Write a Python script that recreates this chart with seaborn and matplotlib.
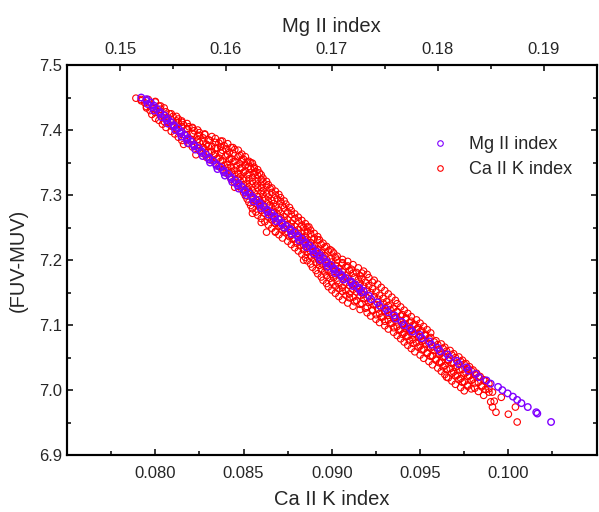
import matplotlib
matplotlib.use('Agg')
import matplotlib.pyplot as plt
from matplotlib.ticker import MultipleLocator, FormatStrFormatter
from matplotlib.lines import Line2D
import seaborn as sns
import pandas as pd

sns.set_style('ticks')
plt.rcParams['font.family'] = ['Liberation Sans', 'DejaVu Sans']

# ── Data ────────────────────────────────────────────────────────────────────
# Mg II index (top axis) vs FUV-MUV
mg_index = [
    0.1520, 0.1525, 0.1526, 0.1531, 0.1532, 0.1538, 0.1539, 0.1544, 0.1545, 0.1551,
    0.1552, 0.1557, 0.1558, 0.1563, 0.1564, 0.1570, 0.1571, 0.1577, 0.1578, 0.1584,
    0.1585, 0.1591, 0.1592, 0.1598, 0.1599, 0.1605, 0.1606, 0.1611, 0.1612, 0.1618,
    0.1619, 0.1625, 0.1626, 0.1632, 0.1633, 0.1639, 0.1640, 0.1646, 0.1647, 0.1653,
    0.1655, 0.1661, 0.1662, 0.1668, 0.1669, 0.1675, 0.1676, 0.1682, 0.1683, 0.1688,
    0.1689, 0.1695, 0.1696, 0.1702, 0.1703, 0.1709, 0.1711, 0.1718, 0.1720, 0.1726,
    0.1728, 0.1735, 0.1737, 0.1743, 0.1745, 0.1751, 0.1753, 0.1759, 0.1760, 0.1766,
    0.1768, 0.1774, 0.1776, 0.1783, 0.1785, 0.1792, 0.1794, 0.1800, 0.1802, 0.1809,
    0.1811, 0.1818, 0.1820, 0.1827, 0.1829, 0.1836, 0.1839, 0.1846, 0.1850, 0.1857,
    0.1861, 0.1866, 0.1871, 0.1875, 0.1879, 0.1885, 0.1893, 0.1894, 0.1907,
]
fuv_muv_mg = [
    7.450, 7.445, 7.440, 7.435, 7.430, 7.425, 7.420, 7.415, 7.410, 7.405,
    7.400, 7.395, 7.390, 7.385, 7.380, 7.375, 7.370, 7.365, 7.360, 7.355,
    7.350, 7.345, 7.340, 7.335, 7.330, 7.325, 7.320, 7.315, 7.310, 7.305,
    7.300, 7.295, 7.290, 7.285, 7.280, 7.275, 7.270, 7.265, 7.260, 7.255,
    7.250, 7.245, 7.240, 7.235, 7.230, 7.225, 7.220, 7.215, 7.210, 7.205,
    7.200, 7.195, 7.190, 7.185, 7.180, 7.175, 7.170, 7.165, 7.160, 7.155,
    7.150, 7.145, 7.140, 7.135, 7.130, 7.125, 7.120, 7.115, 7.110, 7.105,
    7.100, 7.095, 7.090, 7.085, 7.080, 7.075, 7.070, 7.065, 7.060, 7.055,
    7.050, 7.045, 7.040, 7.035, 7.030, 7.025, 7.020, 7.015, 7.010, 7.005,
    7.000, 6.995, 6.990, 6.985, 6.980, 6.974, 6.966, 6.964, 6.951,
]
# second row of Mg II points, the band is about two markers wide up top
mg_index_b = [
    0.1525, 0.1529, 0.1532, 0.1535, 0.1538, 0.1542, 0.1545, 0.1548, 0.1551, 0.1555,
    0.1558, 0.1561, 0.1564, 0.1567, 0.1570, 0.1574, 0.1577, 0.1581, 0.1584, 0.1588,
    0.1591, 0.1595, 0.1598, 0.1602, 0.1605, 0.1609, 0.1612, 0.1615, 0.1618, 0.1622,
    0.1625, 0.1629, 0.1632, 0.1636, 0.1639, 0.1643, 0.1646, 0.1650, 0.1653, 0.1657,
    0.1661, 0.1665, 0.1668, 0.1672, 0.1675, 0.1679, 0.1682, 0.1686, 0.1689, 0.1692,
    0.1695, 0.1699, 0.1702, 0.1706, 0.1709, 0.1713, 0.1718, 0.1722, 0.1726, 0.1730,
]
fuv_muv_mg_b = [
    7.4475, 7.4425, 7.4375, 7.4325, 7.4275, 7.4225, 7.4175, 7.4125, 7.4075, 7.4025,
    7.3975, 7.3925, 7.3875, 7.3825, 7.3775, 7.3725, 7.3675, 7.3625, 7.3575, 7.3525,
    7.3475, 7.3425, 7.3375, 7.3325, 7.3275, 7.3225, 7.3175, 7.3125, 7.3075, 7.3025,
    7.2975, 7.2925, 7.2875, 7.2825, 7.2775, 7.2725, 7.2675, 7.2625, 7.2575, 7.2525,
    7.2475, 7.2425, 7.2375, 7.2325, 7.2275, 7.2225, 7.2175, 7.2125, 7.2075, 7.2025,
    7.1975, 7.1925, 7.1875, 7.1825, 7.1775, 7.1725, 7.1675, 7.1625, 7.1575, 7.1525,
]

# Ca II K index (bottom axis) vs FUV-MUV, one line per band of FUV-MUV
ca_k_index = [
    0.0789, 0.0792, 0.0795,
    0.0794, 0.0797, 0.0800, 0.0803,
    0.0797, 0.0800, 0.0803, 0.0806, 0.0808,
    0.0800, 0.0803, 0.0807, 0.0810, 0.0813, 0.0815,
    0.0804, 0.0807, 0.0810, 0.0813, 0.0816, 0.0819, 0.0821,
    0.0809, 0.0812, 0.0815, 0.0818, 0.0822, 0.0825, 0.0828,
    0.0813, 0.0817, 0.0820, 0.0824, 0.0827, 0.0830, 0.0834, 0.0837,
    0.0816, 0.0819, 0.0822, 0.0825, 0.0829, 0.0832, 0.0836, 0.0839, 0.0843,
    0.0825, 0.0828, 0.0832, 0.0835, 0.0838, 0.0842, 0.0845, 0.0849,
    0.0823, 0.0829, 0.0833, 0.0836, 0.0840, 0.0843, 0.0847, 0.0850, 0.0853,
    0.0834, 0.0837, 0.0841, 0.0844, 0.0848, 0.0851, 0.0854, 0.0856,
    0.0838, 0.0841, 0.0845, 0.0848, 0.0851, 0.0854, 0.0857, 0.0859,
    0.0842, 0.0845, 0.0848, 0.0852, 0.0855, 0.0858, 0.0861,
    0.0845, 0.0848, 0.0852, 0.0855, 0.0858, 0.0861, 0.0864,
    0.0845, 0.0849, 0.0852, 0.0855, 0.0858, 0.0861, 0.0865, 0.0868,
    0.0851, 0.0854, 0.0858, 0.0861, 0.0864, 0.0868, 0.0871,
    0.0853, 0.0857, 0.0860, 0.0864, 0.0867, 0.0871, 0.0874,
    0.0855, 0.0859, 0.0862, 0.0866, 0.0870, 0.0873, 0.0877,
    0.0855, 0.0858, 0.0862, 0.0866, 0.0869, 0.0873, 0.0877, 0.0881,
    0.0860, 0.0862, 0.0866, 0.0869, 0.0873, 0.0877, 0.0881, 0.0885,
    0.0866, 0.0870, 0.0873, 0.0877, 0.0881, 0.0884, 0.0886, 0.0888,
    0.0863, 0.0868, 0.0870, 0.0874, 0.0877, 0.0881, 0.0885, 0.0888, 0.0892,
    0.0875, 0.0878, 0.0882, 0.0885, 0.0888, 0.0892, 0.0895,
    0.0879, 0.0882, 0.0886, 0.0889, 0.0892, 0.0896, 0.0899,
    0.0883, 0.0886, 0.0890, 0.0893, 0.0896, 0.0900, 0.0903,
    0.0884, 0.0886, 0.0890, 0.0893, 0.0897, 0.0900, 0.0903, 0.0906, 0.0909,
    0.0889, 0.0893, 0.0897, 0.0900, 0.0904, 0.0908, 0.0911, 0.0915,
    0.0892, 0.0896, 0.0900, 0.0904, 0.0908, 0.0912, 0.0916, 0.0917, 0.0920,
    0.0895, 0.0899, 0.0903, 0.0907, 0.0911, 0.0915, 0.0919, 0.0923, 0.0924,
    0.0898, 0.0902, 0.0906, 0.0910, 0.0914, 0.0918, 0.0923, 0.0928,
    0.0902, 0.0906, 0.0910, 0.0914, 0.0918, 0.0922, 0.0927, 0.0932,
    0.0906, 0.0910, 0.0914, 0.0918, 0.0922, 0.0926, 0.0931, 0.0936,
    0.0912, 0.0916, 0.0920, 0.0924, 0.0928, 0.0932, 0.0935, 0.0939,
    0.0920, 0.0923, 0.0927, 0.0930, 0.0934, 0.0937, 0.0940, 0.0943,
    0.0925, 0.0928, 0.0932, 0.0935, 0.0939, 0.0942, 0.0945, 0.0948,
    0.0930, 0.0933, 0.0937, 0.0940, 0.0943, 0.0946, 0.0949, 0.0952,
    0.0935, 0.0938, 0.0941, 0.0944, 0.0947, 0.0950, 0.0953, 0.0956,
    0.0939, 0.0942, 0.0946, 0.0949, 0.0952, 0.0955, 0.0959,
    0.0943, 0.0946, 0.0950, 0.0953, 0.0957, 0.0960, 0.0964,
    0.0947, 0.0951, 0.0954, 0.0958, 0.0962, 0.0965, 0.0969,
    0.0952, 0.0956, 0.0959, 0.0963, 0.0966, 0.0970, 0.0974,
    0.0957, 0.0961, 0.0964, 0.0968, 0.0971, 0.0975, 0.0978,
    0.0962, 0.0965, 0.0969, 0.0972, 0.0976, 0.0979, 0.0982,
    0.0965, 0.0966, 0.0970, 0.0973, 0.0977, 0.0980, 0.0983, 0.0986,
    0.0970, 0.0974, 0.0977, 0.0981, 0.0985, 0.0989,
    0.0975, 0.0979, 0.0983, 0.0987, 0.0991,
    0.0986, 0.0989, 0.0990, 0.0992, 0.0991, 0.0993, 0.0996, 0.1000, 0.1004, 0.1005,
]
fuv_muv_ca = [
    7.449, 7.447, 7.434,
    7.442, 7.438, 7.443, 7.437,
    7.430, 7.427, 7.432, 7.428, 7.425,
    7.418, 7.422, 7.419, 7.421, 7.417, 7.414,
    7.409, 7.412, 7.407, 7.411, 7.408, 7.405, 7.403,
    7.398, 7.401, 7.397, 7.402, 7.399, 7.396, 7.393,
    7.389, 7.392, 7.386, 7.391, 7.388, 7.385, 7.387, 7.383,
    7.378, 7.379, 7.377, 7.381, 7.378, 7.375, 7.380, 7.376, 7.373,
    7.368, 7.371, 7.367, 7.372, 7.369, 7.366, 7.370, 7.363,
    7.362, 7.358, 7.361, 7.357, 7.360, 7.356, 7.359, 7.355, 7.352,
    7.349, 7.352, 7.347, 7.351, 7.348, 7.346, 7.350, 7.343,
    7.339, 7.342, 7.338, 7.341, 7.337, 7.340, 7.336, 7.334,
    7.329, 7.332, 7.328, 7.331, 7.327, 7.330, 7.326,
    7.319, 7.322, 7.318, 7.321, 7.317, 7.320, 7.316,
    7.312, 7.309, 7.311, 7.308, 7.311, 7.307, 7.310, 7.306,
    7.299, 7.302, 7.298, 7.301, 7.297, 7.300, 7.296,
    7.289, 7.292, 7.288, 7.291, 7.287, 7.290, 7.286,
    7.279, 7.282, 7.278, 7.281, 7.277, 7.280, 7.276,
    7.272, 7.269, 7.272, 7.268, 7.271, 7.267, 7.270, 7.266,
    7.258, 7.259, 7.262, 7.258, 7.261, 7.257, 7.260, 7.256,
    7.249, 7.252, 7.248, 7.251, 7.247, 7.250, 7.251, 7.246,
    7.243, 7.243, 7.239, 7.242, 7.238, 7.241, 7.237, 7.240, 7.236,
    7.229, 7.232, 7.228, 7.231, 7.227, 7.231, 7.226,
    7.219, 7.222, 7.218, 7.221, 7.217, 7.220, 7.216,
    7.209, 7.212, 7.208, 7.211, 7.207, 7.214, 7.206,
    7.200, 7.199, 7.202, 7.198, 7.201, 7.197, 7.200, 7.196, 7.198,
    7.189, 7.192, 7.188, 7.191, 7.187, 7.190, 7.186, 7.188,
    7.179, 7.182, 7.178, 7.181, 7.177, 7.180, 7.176, 7.180, 7.178,
    7.169, 7.172, 7.168, 7.171, 7.167, 7.170, 7.166, 7.166, 7.169,
    7.159, 7.160, 7.158, 7.161, 7.157, 7.160, 7.156, 7.158,
    7.149, 7.152, 7.148, 7.151, 7.147, 7.150, 7.146, 7.148,
    7.139, 7.142, 7.138, 7.141, 7.137, 7.140, 7.136, 7.138,
    7.129, 7.132, 7.128, 7.131, 7.127, 7.130, 7.126, 7.128,
    7.119, 7.122, 7.118, 7.121, 7.117, 7.120, 7.116, 7.118,
    7.109, 7.112, 7.108, 7.111, 7.107, 7.110, 7.106, 7.108,
    7.099, 7.102, 7.098, 7.101, 7.097, 7.100, 7.096, 7.098,
    7.089, 7.092, 7.088, 7.091, 7.087, 7.090, 7.086, 7.088,
    7.079, 7.082, 7.078, 7.081, 7.077, 7.080, 7.076,
    7.069, 7.072, 7.068, 7.071, 7.067, 7.070, 7.066,
    7.059, 7.062, 7.058, 7.061, 7.057, 7.060, 7.056,
    7.049, 7.052, 7.048, 7.051, 7.047, 7.050, 7.046,
    7.039, 7.042, 7.038, 7.041, 7.037, 7.040, 7.036,
    7.029, 7.032, 7.028, 7.031, 7.027, 7.030, 7.026,
    7.020, 7.019, 7.022, 7.018, 7.021, 7.017, 7.020, 7.016,
    7.009, 7.012, 7.008, 7.011, 7.007, 7.010,
    6.999, 7.002, 6.998, 7.001, 6.997,
    6.992, 6.997, 6.982, 6.983, 6.974, 6.966, 6.989, 6.963, 6.974, 6.951,
]

# Ca II K points lying between the bands above (the cloud is dense)
ca_k_index_mid = [
    0.0792, 0.0796, 0.0800,
    0.0795, 0.0799, 0.0802, 0.0805,
    0.0798, 0.0802, 0.0805, 0.0809, 0.0812,
    0.0802, 0.0805, 0.0809, 0.0812, 0.0815, 0.0818,
    0.0806, 0.0809, 0.0812, 0.0815, 0.0818, 0.0821, 0.0824,
    0.0811, 0.0814, 0.0818, 0.0821, 0.0825, 0.0828, 0.0832,
    0.0815, 0.0818, 0.0821, 0.0824, 0.0827, 0.0831, 0.0834, 0.0838, 0.0841,
    0.0821, 0.0824, 0.0827, 0.0830, 0.0834, 0.0837, 0.0840, 0.0844, 0.0847,
    0.0827, 0.0830, 0.0834, 0.0837, 0.0841, 0.0844, 0.0848, 0.0851,
    0.0831, 0.0835, 0.0838, 0.0842, 0.0845, 0.0849, 0.0852, 0.0855,
    0.0836, 0.0839, 0.0843, 0.0846, 0.0849, 0.0853, 0.0856, 0.0858,
    0.0840, 0.0843, 0.0847, 0.0850, 0.0853, 0.0856, 0.0860,
    0.0843, 0.0847, 0.0850, 0.0853, 0.0857, 0.0860, 0.0863,
    0.0847, 0.0850, 0.0853, 0.0857, 0.0860, 0.0863, 0.0866,
    0.0850, 0.0853, 0.0856, 0.0860, 0.0863, 0.0866, 0.0870,
    0.0852, 0.0855, 0.0859, 0.0862, 0.0866, 0.0869, 0.0873,
    0.0854, 0.0858, 0.0861, 0.0865, 0.0868, 0.0872, 0.0876,
    0.0857, 0.0860, 0.0864, 0.0867, 0.0871, 0.0875, 0.0879,
    0.0860, 0.0864, 0.0867, 0.0871, 0.0875, 0.0879, 0.0883,
    0.0864, 0.0868, 0.0871, 0.0875, 0.0879, 0.0883, 0.0887,
    0.0868, 0.0872, 0.0875, 0.0879, 0.0883, 0.0886, 0.0890,
    0.0872, 0.0876, 0.0879, 0.0883, 0.0886, 0.0890, 0.0893,
    0.0877, 0.0880, 0.0884, 0.0887, 0.0890, 0.0894, 0.0897,
    0.0881, 0.0884, 0.0888, 0.0891, 0.0894, 0.0898, 0.0901,
    0.0885, 0.0888, 0.0892, 0.0895, 0.0899, 0.0902, 0.0906,
    0.0888, 0.0891, 0.0895, 0.0898, 0.0902, 0.0906, 0.0909, 0.0912,
    0.0891, 0.0894, 0.0898, 0.0902, 0.0906, 0.0910, 0.0914, 0.0918,
    0.0894, 0.0897, 0.0901, 0.0905, 0.0909, 0.0913, 0.0917, 0.0921,
    0.0897, 0.0900, 0.0904, 0.0908, 0.0912, 0.0916, 0.0921, 0.0926,
    0.0900, 0.0904, 0.0908, 0.0912, 0.0916, 0.0920, 0.0925, 0.0930,
    0.0904, 0.0908, 0.0912, 0.0916, 0.0920, 0.0924, 0.0929, 0.0934,
    0.0909, 0.0913, 0.0917, 0.0921, 0.0925, 0.0929, 0.0933, 0.0937,
    0.0916, 0.0919, 0.0923, 0.0926, 0.0930, 0.0933, 0.0937, 0.0941,
    0.0922, 0.0925, 0.0929, 0.0932, 0.0936, 0.0939, 0.0942, 0.0945,
    0.0927, 0.0930, 0.0934, 0.0937, 0.0941, 0.0944, 0.0947, 0.0950,
    0.0932, 0.0935, 0.0939, 0.0942, 0.0945, 0.0948, 0.0951, 0.0954,
    0.0937, 0.0940, 0.0943, 0.0946, 0.0950, 0.0953, 0.0956,
    0.0941, 0.0944, 0.0948, 0.0951, 0.0955, 0.0958, 0.0962,
    0.0945, 0.0949, 0.0952, 0.0956, 0.0960, 0.0963, 0.0967,
    0.0950, 0.0954, 0.0957, 0.0961, 0.0964, 0.0968, 0.0972,
    0.0955, 0.0959, 0.0962, 0.0966, 0.0969, 0.0973, 0.0976,
    0.0960, 0.0963, 0.0967, 0.0970, 0.0974, 0.0977, 0.0980,
    0.0964, 0.0968, 0.0971, 0.0975, 0.0978, 0.0981, 0.0984,
    0.0968, 0.0972, 0.0975, 0.0979, 0.0983, 0.0987,
    0.0973, 0.0977, 0.0981, 0.0985, 0.0989,
]
fuv_muv_ca_mid = [
    7.445, 7.447, 7.444,
    7.436, 7.433, 7.437, 7.434,
    7.424, 7.426, 7.423, 7.425, 7.421,
    7.415, 7.413, 7.416, 7.414, 7.412, 7.410,
    7.404, 7.406, 7.403, 7.405, 7.402, 7.404, 7.400,
    7.394, 7.396, 7.393, 7.395, 7.392, 7.394, 7.390,
    7.384, 7.386, 7.383, 7.385, 7.382, 7.384, 7.381, 7.383, 7.379,
    7.374, 7.376, 7.373, 7.375, 7.372, 7.374, 7.371, 7.373, 7.369,
    7.364, 7.366, 7.363, 7.365, 7.362, 7.364, 7.361, 7.359,
    7.354, 7.356, 7.353, 7.355, 7.352, 7.354, 7.351, 7.349,
    7.344, 7.346, 7.343, 7.345, 7.342, 7.344, 7.341, 7.339,
    7.334, 7.336, 7.333, 7.335, 7.332, 7.334, 7.331,
    7.324, 7.326, 7.323, 7.325, 7.322, 7.324, 7.321,
    7.314, 7.316, 7.313, 7.315, 7.312, 7.314, 7.311,
    7.304, 7.306, 7.303, 7.305, 7.302, 7.304, 7.301,
    7.294, 7.296, 7.293, 7.295, 7.292, 7.294, 7.291,
    7.284, 7.286, 7.283, 7.285, 7.282, 7.284, 7.281,
    7.274, 7.276, 7.273, 7.275, 7.272, 7.274, 7.271,
    7.264, 7.266, 7.263, 7.265, 7.262, 7.264, 7.261,
    7.254, 7.256, 7.253, 7.255, 7.252, 7.254, 7.251,
    7.244, 7.246, 7.243, 7.245, 7.242, 7.244, 7.241,
    7.234, 7.236, 7.233, 7.235, 7.232, 7.234, 7.231,
    7.224, 7.226, 7.223, 7.225, 7.222, 7.224, 7.221,
    7.214, 7.216, 7.213, 7.215, 7.212, 7.214, 7.211,
    7.204, 7.206, 7.203, 7.205, 7.202, 7.204, 7.201,
    7.194, 7.196, 7.193, 7.195, 7.192, 7.194, 7.191, 7.193,
    7.184, 7.186, 7.183, 7.185, 7.182, 7.184, 7.181, 7.183,
    7.174, 7.176, 7.173, 7.175, 7.172, 7.174, 7.171, 7.173,
    7.164, 7.166, 7.163, 7.165, 7.162, 7.164, 7.161, 7.163,
    7.154, 7.156, 7.153, 7.155, 7.152, 7.154, 7.151, 7.153,
    7.144, 7.146, 7.143, 7.145, 7.142, 7.144, 7.141, 7.143,
    7.134, 7.136, 7.133, 7.135, 7.132, 7.134, 7.131, 7.133,
    7.124, 7.126, 7.123, 7.125, 7.122, 7.124, 7.121, 7.123,
    7.114, 7.116, 7.113, 7.115, 7.112, 7.114, 7.111, 7.113,
    7.104, 7.106, 7.103, 7.105, 7.102, 7.104, 7.101, 7.103,
    7.094, 7.096, 7.093, 7.095, 7.092, 7.094, 7.091, 7.093,
    7.084, 7.086, 7.083, 7.085, 7.082, 7.084, 7.081,
    7.074, 7.076, 7.073, 7.075, 7.072, 7.074, 7.071,
    7.064, 7.066, 7.063, 7.065, 7.062, 7.064, 7.061,
    7.054, 7.056, 7.053, 7.055, 7.052, 7.054, 7.051,
    7.044, 7.046, 7.043, 7.045, 7.042, 7.044, 7.041,
    7.034, 7.036, 7.033, 7.035, 7.032, 7.034, 7.031,
    7.024, 7.026, 7.023, 7.025, 7.022, 7.024, 7.021,
    7.014, 7.016, 7.013, 7.015, 7.012, 7.014,
    7.004, 7.006, 7.003, 7.005, 7.002,
]

MG_COLOR = '#8000ff'
CA_COLOR = '#ff0000'

df_ca = pd.DataFrame({'ca': ca_k_index + ca_k_index_mid,
                      'fuv': fuv_muv_ca + fuv_muv_ca_mid})
df_mg = pd.DataFrame({'mg': mg_index + mg_index_b,
                      'fuv': fuv_muv_mg + fuv_muv_mg_b})

# ── Figure ──────────────────────────────────────────────────────────────────
fig = plt.figure(figsize=(5.99, 5.12), dpi=100)
ax = fig.add_axes([0.112, 0.111, 0.884, 0.762])

sns.scatterplot(data=df_ca, x='ca', y='fuv', ax=ax, marker='o', s=22,
                facecolor='none', edgecolor=CA_COLOR, linewidth=0.8)
ax.set_xlim(0.075, 0.105)
ax.set_ylim(6.9, 7.5)

ax2 = ax.twiny()
sns.scatterplot(data=df_mg, x='mg', y='fuv', ax=ax2, marker='o', s=22,
                facecolor='none', edgecolor=MG_COLOR, linewidth=1.0)
ax2.set_xlim(0.145, 0.195)
ax2.set_ylim(6.9, 7.5)

# axis styling
ax.set_xticks([0.080, 0.085, 0.090, 0.095, 0.100])
ax.xaxis.set_minor_locator(MultipleLocator(0.0025))
ax.xaxis.set_major_formatter(FormatStrFormatter('%.3f'))
ax.yaxis.set_major_locator(MultipleLocator(0.1))
ax.yaxis.set_minor_locator(MultipleLocator(0.05))
ax.yaxis.set_major_formatter(FormatStrFormatter('%.1f'))
ax2.set_xticks([0.15, 0.16, 0.17, 0.18, 0.19])
ax2.xaxis.set_minor_locator(MultipleLocator(0.005))
ax2.xaxis.set_major_formatter(FormatStrFormatter('%.2f'))

ax.tick_params(axis='both', which='both', direction='in', labelsize=12,
               left=True, right=True, bottom=True, top=False, width=1.3)
ax.tick_params(which='major', length=4.5)
ax.tick_params(which='minor', length=3)
ax.tick_params(axis='x', pad=8)
ax2.tick_params(axis='x', which='both', direction='in', labelsize=12, width=1.3, pad=6)
ax2.tick_params(which='major', length=4.5)
ax2.tick_params(which='minor', length=3)

for a in (ax, ax2):
    for sp in a.spines.values():
        sp.set_visible(True)
        sp.set_linewidth(1.5)
        sp.set_color('black')
        sp.set_zorder(5)

ax.set_xlabel('Ca II K index', fontsize=14.5, labelpad=6)
ax.set_ylabel('(FUV-MUV)', fontsize=14.5, labelpad=8)
ax2.set_xlabel('Mg II index', fontsize=14.5, labelpad=7)

handles = [
    Line2D([], [], marker='o', linestyle='none', markersize=4, markerfacecolor='none',
           markeredgecolor=MG_COLOR, markeredgewidth=0.8, label='Mg II index'),
    Line2D([], [], marker='o', linestyle='none', markersize=4, markerfacecolor='none',
           markeredgecolor=CA_COLOR, markeredgewidth=0.8, label='Ca II K index'),
]
ax2.legend(handles=handles, loc='upper right', bbox_to_anchor=(0.985, 0.86),
           frameon=False, fontsize=13, handlelength=1.0, handletextpad=1.1,
           labelspacing=0.45)

plt.savefig('out.png', dpi=100)
plt.close()
